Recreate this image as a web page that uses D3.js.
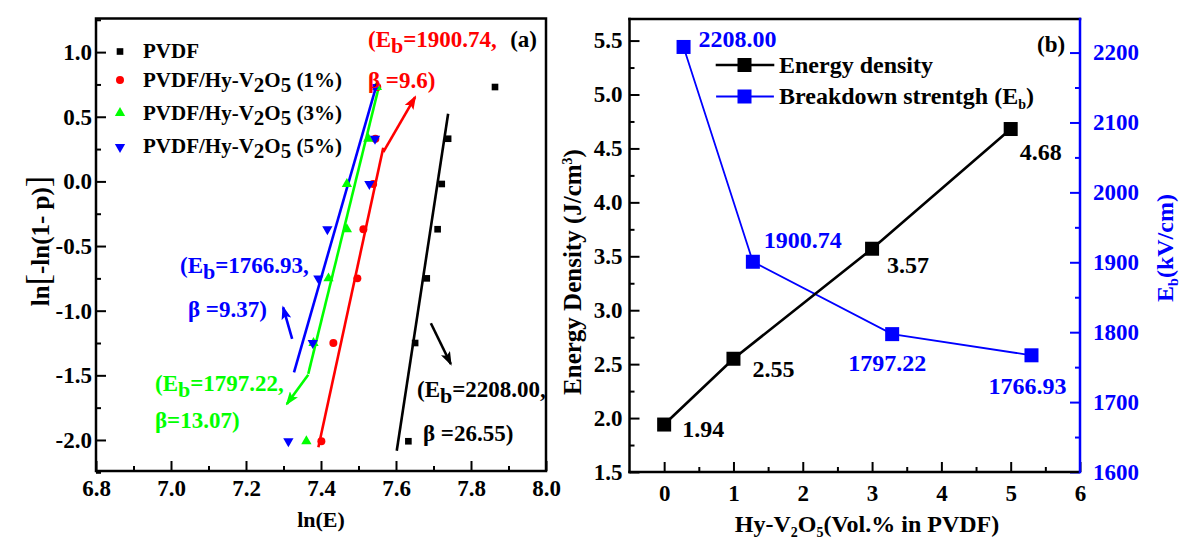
<!DOCTYPE html>
<html><head><meta charset="utf-8">
<script src="https://cdn.jsdelivr.net/npm/d3@7"></script>
<style>
body{margin:0;background:#fff}
svg{display:block}
text{font-family:"Liberation Serif","Times New Roman",serif;font-weight:bold}
</style>
</head><body>
<svg id="c" width="1184" height="542"></svg>
<script>
// ---------------- DATA ----------------
// Panel (a): Weibull plot
const weibullY = [-2.01, -1.25, -0.75, -0.37, -0.02, 0.33, 0.73];
const lnE_PVDF = [7.633, 7.651, 7.682, 7.711, 7.722, 7.739, 7.864];
const lnE_1pct = [7.401, 7.433, 7.497, 7.513, 7.539, 7.545, 7.550];
const lnE_3pct = [7.361, 7.380, 7.420, 7.469, 7.469, 7.526, 7.549];
const lnE_5pct = [7.313, 7.378, 7.393, 7.417, 7.529, 7.544, 7.544];
const fit_PVDF = [[7.602, -2.083], [7.739, 0.523]];
const fit_1pct = [[7.393, -2.057], [7.566, 0.260]];
const fit_3pct = [[7.366, -1.489], [7.553, 0.717]];
const fit_5pct = [[7.328, -1.477], [7.549, 0.755]];
const seriesNamesA = ["PVDF", "PVDF/Hy-V2O5 (1%)", "PVDF/Hy-V2O5 (3%)", "PVDF/Hy-V2O5 (5%)"];
const ebValues = ["2208.00", "1900.74", "1797.22", "1766.93"];
const betaValues = ["26.55", "9.6", "13.07", "9.37"];
const xTicksA = [6.8, 7.0, 7.2, 7.4, 7.6, 7.8, 8.0];
const yTicksA = [-2.0, -1.5, -1.0, -0.5, 0.0, 0.5, 1.0];

// Panel (b)
const loading = [0, 1, 3, 5];
const energyDensity = [1.94, 2.55, 3.57, 4.68];
const loadingEb = [0.28, 1.28, 3.29, 5.30];
const breakdownEb = [2208.00, 1900.74, 1797.22, 1766.93];
const xTicksB = [0, 1, 2, 3, 4, 5, 6];
const yTicksB = [1.5, 2.0, 2.5, 3.0, 3.5, 4.0, 4.5, 5.0, 5.5];
const yTicksEb = [1600, 1700, 1800, 1900, 2000, 2100, 2200];

// ---------------- HELPERS ----------------
const svg = d3.select("#c");
function rich(sel, parts) {
  let pending = 0;
  parts.forEach(p => {
    if (typeof p === "string") {
      const ts = sel.append("tspan").text(p);
      if (pending) { ts.attr("dy", pending); pending = 0; }
    } else {
      sel.append("tspan").attr("dy", p.dy + pending).attr("font-size", p.size).text(p.t);
      pending = -p.dy;
    }
  });
  return sel;
}
function frameLine(g, x1, y1, x2, y2, color, w) {
  g.append("line").attr("x1", x1).attr("y1", y1).attr("x2", x2).attr("y2", y2)
    .attr("stroke", color).attr("stroke-width", w).attr("stroke-linecap", "square");
}
function styleAxis(g, color, size) {
  g.select(".domain").remove();
  g.selectAll(".tick line").attr("stroke", color).attr("stroke-width", 2);
  g.selectAll(".tick text").attr("fill", color).attr("font-size", size)
    .attr("font-family", '"Liberation Serif","Times New Roman",serif').attr("font-weight", "bold");
}
const defs = svg.append("defs");
["#ff0000", "#0000ff", "#00ff00", "#000000"].forEach((c, i) => {
  defs.append("marker").attr("id", "ah" + i).attr("viewBox", "0 0 14 10")
    .attr("refX", 12).attr("refY", 5).attr("markerWidth", 14).attr("markerHeight", 10)
    .attr("markerUnits", "userSpaceOnUse").attr("orient", "auto")
    .append("path").attr("d", "M0,0 L14,5 L0,10 L3,5 Z").attr("fill", c);
});

// ---------------- PANEL (a) ----------------
const xA = d3.scaleLinear().domain([6.8, 8.0]).range([96, 546]);
const yA = d3.scaleLinear().domain([-2.24, 1.26]).range([471, 18.5]);
const gA = svg.append("g");

const axXA = gA.append("g").attr("transform", "translate(0,471)")
  .call(d3.axisBottom(xA).tickValues(xTicksA).tickSizeInner(-10).tickSizeOuter(0).tickPadding(9).tickFormat(d3.format(".1f")));
styleAxis(axXA, "#000", 23);
const axXAm = gA.append("g").attr("transform", "translate(0,471)")
  .call(d3.axisBottom(xA).tickValues(d3.range(6.9, 8.0, 0.2)).tickSizeInner(-5).tickSizeOuter(0).tickFormat(""));
styleAxis(axXAm, "#000", 23);
const axYA = gA.append("g").attr("transform", "translate(96,0)")
  .call(d3.axisLeft(yA).tickValues(yTicksA).tickSizeInner(-10).tickSizeOuter(0).tickPadding(4).tickFormat(d => d.toFixed(1)));
styleAxis(axYA, "#000", 23);
const axYAm = gA.append("g").attr("transform", "translate(96,0)")
  .call(d3.axisLeft(yA).tickValues([-2.25, -1.75, -1.25, -0.75, -0.25, 0.25, 0.75, 1.25]).tickSizeInner(-5).tickSizeOuter(0).tickFormat(""));
styleAxis(axYAm, "#000", 23);
gA.append("rect").attr("x", 96).attr("y", 18.5).attr("width", 450).attr("height", 452.5)
  .attr("fill", "none").attr("stroke", "#000").attr("stroke-width", 2.5);

const seriesA = [
  { color: "#000000", sym: d3.symbolSquare, size: 44, rot: 0, x: lnE_PVDF, fit: fit_PVDF },
  { color: "#ff0000", sym: d3.symbolCircle, size: 50, rot: 0, x: lnE_1pct, fit: fit_1pct },
  { color: "#00ff00", sym: d3.symbolTriangle, size: 46, rot: 0, x: lnE_3pct, fit: fit_3pct },
  { color: "#0000ff", sym: d3.symbolTriangle, size: 46, rot: 180, x: lnE_5pct, fit: fit_5pct }
];
const line = d3.line().x(d => xA(d[0])).y(d => yA(d[1]));
seriesA.forEach(s => {
  gA.append("path").attr("d", line(s.fit)).attr("stroke", s.color).attr("stroke-width", 2.6).attr("fill", "none");
});
seriesA.forEach(s => {
  gA.selectAll(null).data(s.x.map((v, i) => [v, weibullY[i]])).enter().append("path")
    .attr("d", d3.symbol().type(s.sym).size(s.size))
    .attr("transform", d => `translate(${xA(d[0])},${yA(d[1])}) rotate(${s.rot})`)
    .attr("fill", s.color);
});

// legend (a)
const legA = [{ y: 51.5, base: 58 }, { y: 80, base: 86.5 }, { y: 113, base: 119.5 }, { y: 147, base: 153 }];
seriesA.forEach((s, i) => {
  gA.append("path").attr("d", d3.symbol().type(s.sym).size(s.size))
    .attr("transform", `translate(120,${legA[i].y}) rotate(${s.rot})`).attr("fill", s.color);
  const t = gA.append("text").attr("x", 143).attr("y", legA[i].base).attr("font-size", 21).attr("fill", "#000");
  const nm = seriesNamesA[i];
  if (i === 0) t.text(nm);
  else {
    const m = nm.match(/^(.*V)2O5(.*)$/);
    rich(t, [m[1], { t: "2", dy: 5, size: 21 }, "O", { t: "5", dy: 5, size: 21 }, m[2]]);
  }
});

// arrows (data coordinates)
const arrowsA = [
  { c: 0, from: [7.566, 0.226], to: [7.651, 0.652] },
  { c: 1, from: [7.323, -1.218], to: [7.299, -0.974] },
  { c: 2, from: [7.366, -1.495], to: [7.309, -1.721] },
  { c: 3, from: [7.693, -1.097], to: [7.746, -1.412] }
];
const arrowColors = ["#ff0000", "#0000ff", "#00ff00", "#000000"];
arrowsA.forEach(a => {
  gA.append("line").attr("x1", xA(a.from[0])).attr("y1", yA(a.from[1]))
    .attr("x2", xA(a.to[0])).attr("y2", yA(a.to[1]))
    .attr("stroke", arrowColors[a.c]).attr("stroke-width", 2.6)
    .attr("marker-end", `url(#ah${a.c})`);
});

// annotations (pixel layout)
const annA = [
  { s: 1, color: "#ff0000", x: 368, y: 46.5, by: 88, bx: 368, beta: "\u03b2 =" },
  { s: 3, color: "#0000ff", x: 180, y: 272.5, by: 317, bx: 188, beta: "\u03b2 =" },
  { s: 2, color: "#00ff00", x: 155, y: 390.5, by: 428, bx: 155, beta: "\u03b2=" },
  { s: 0, color: "#000000", x: 417, y: 396.5, by: 440.5, bx: 423, beta: "\u03b2 =" }
];
annA.forEach(a => {
  const t = gA.append("text").attr("x", a.x).attr("y", a.y).attr("font-size", 23).attr("fill", a.color);
  rich(t, ["(E", { t: "b", dy: 6, size: 22 }, "=" + ebValues[a.s] + ","]);
  gA.append("text").attr("x", a.bx).attr("y", a.by).attr("font-size", 23).attr("fill", a.color)
    .text(a.beta + betaValues[a.s] + ")");
});
gA.append("text").attr("x", 537).attr("y", 46.5).attr("text-anchor", "end").attr("font-size", 23).text("(a)");

// axis titles (a)
gA.append("text").attr("x", 321).attr("y", 527).attr("text-anchor", "middle").attr("font-size", 22).text("ln(E)");
const ytA = gA.append("text").attr("transform", "translate(49,241) rotate(-90)").attr("text-anchor", "middle").attr("font-size", 25);
ytA.append("tspan").text("ln");
ytA.append("tspan").attr("font-size", 34).attr("font-weight", "normal").text("[");
ytA.append("tspan").text("-ln(1- p)");
ytA.append("tspan").attr("font-size", 34).attr("font-weight", "normal").text("]");

// ---------------- PANEL (b) ----------------
const xB = d3.scaleLinear().domain([-0.5, 6]).range([629.5, 1080]);
const yB = d3.scaleLinear().domain([1.5, 5.7]).range([472, 19]);
const yE = d3.scaleLinear().domain([1600, 2248]).range([472, 19]);
const gB = svg.append("g");
const BLUE = "#0000ff";

const axXB = gB.append("g").attr("transform", "translate(0,472)")
  .call(d3.axisBottom(xB).tickValues(xTicksB).tickSizeInner(-10).tickSizeOuter(0).tickPadding(13).tickFormat(d3.format("d")));
styleAxis(axXB, "#000", 23);
const axXBm = gB.append("g").attr("transform", "translate(0,472)")
  .call(d3.axisBottom(xB).tickValues(d3.range(0.5, 6, 1)).tickSizeInner(-5).tickSizeOuter(0).tickFormat(""));
styleAxis(axXBm, "#000", 23);
const axYB = gB.append("g").attr("transform", "translate(629.5,0)")
  .call(d3.axisLeft(yB).tickValues(yTicksB).tickSizeInner(-10).tickSizeOuter(0).tickPadding(7).tickFormat(d3.format(".1f")));
styleAxis(axYB, "#000", 23);
const axYBm = gB.append("g").attr("transform", "translate(629.5,0)")
  .call(d3.axisLeft(yB).tickValues(d3.range(1.75, 5.7, 0.5)).tickSizeInner(-5).tickSizeOuter(0).tickFormat(""));
styleAxis(axYBm, "#000", 23);
const axYE = gB.append("g").attr("transform", "translate(1080,0)")
  .call(d3.axisRight(yE).tickValues(yTicksEb).tickSizeInner(-10).tickSizeOuter(0).tickPadding(13).tickFormat(d3.format("d")));
styleAxis(axYE, BLUE, 23);
const axYEm = gB.append("g").attr("transform", "translate(1080,0)")
  .call(d3.axisRight(yE).tickValues(d3.range(1650, 2248, 100)).tickSizeInner(-5).tickSizeOuter(0).tickFormat(""));
styleAxis(axYEm, BLUE, 23);

frameLine(gB, 629.5, 19, 1080, 19, "#000", 2.5);
frameLine(gB, 629.5, 19, 629.5, 472, "#000", 2.5);
frameLine(gB, 629.5, 472, 1078, 472, "#000", 2.5);
frameLine(gB, 1080, 19, 1080, 472, BLUE, 2.5);

// lines
const edPts = loading.map((v, i) => [v, energyDensity[i]]);
const ebPts = loadingEb.map((v, i) => [v, breakdownEb[i]]);
gB.append("path").attr("d", d3.line().x(d => xB(d[0])).y(d => yE(d[1]))(ebPts))
  .attr("stroke", BLUE).attr("stroke-width", 1.8).attr("fill", "none");
gB.append("path").attr("d", d3.line().x(d => xB(d[0])).y(d => yB(d[1]))(edPts))
  .attr("stroke", "#000").attr("stroke-width", 2.6).attr("fill", "none");
gB.selectAll(".eb").data(ebPts).enter().append("rect")
  .attr("x", d => xB(d[0]) - 7).attr("y", d => yE(d[1]) - 7).attr("width", 14).attr("height", 14).attr("fill", BLUE);
gB.selectAll(".ed").data(edPts).enter().append("rect")
  .attr("x", d => xB(d[0]) - 7).attr("y", d => yB(d[1]) - 7).attr("width", 14).attr("height", 14).attr("fill", "#000");

// value labels (offsets are layout)
const edOff = [[18, 12], [19, 18], [15, 24], [9, 31]];
edPts.forEach((d, i) => {
  gB.append("text").attr("x", xB(d[0]) + edOff[i][0]).attr("y", yB(d[1]) + edOff[i][1])
    .attr("font-size", 24).attr("fill", "#000").text(d[1].toFixed(2));
});
const ebOff = [[15, 0], [11, -14], [-44, 37], [-43, 39]];
ebPts.forEach((d, i) => {
  gB.append("text").attr("x", xB(d[0]) + ebOff[i][0]).attr("y", yE(d[1]) + ebOff[i][1])
    .attr("font-size", 24).attr("fill", BLUE).text(d[1].toFixed(2));
});

// legend (b)
[{ c: "#000", y: 65, base: 72.5 }, { c: BLUE, y: 96.5, base: 104 }].forEach((r, i) => {
  frameLine(gB, 717, r.y, 773, r.y, r.c, i === 0 ? 2.6 : 1.8);
  gB.append("rect").attr("x", 737.5).attr("y", r.y - 7).attr("width", 14).attr("height", 14).attr("fill", r.c);
  const t = gB.append("text").attr("x", 779).attr("y", r.base).attr("font-size", 24).attr("fill", "#000");
  if (i === 0) t.text("Energy density");
  else rich(t, ["Breakdown strentgh (E", { t: "b", dy: 5, size: 14 }, ")"]);
});
gB.append("text").attr("x", 1037).attr("y", 52).attr("font-size", 23).text("(b)");

// axis titles (b)
const xtB = gB.append("text").attr("x", 867).attr("y", 532).attr("text-anchor", "middle").attr("font-size", 24);
rich(xtB, ["Hy-V", { t: "2", dy: 5, size: 14 }, "O", { t: "5", dy: 5, size: 14 }, "(Vol.% in PVDF)"]);
const ytB = gB.append("text").attr("transform", "translate(581,272) rotate(-90)").attr("text-anchor", "middle").attr("font-size", 25);
rich(ytB, ["Energy Density (J/cm", { t: "3", dy: -9, size: 14 }, ")"]);
const ytE = gB.append("text").attr("transform", "translate(1173,248) rotate(-90)").attr("text-anchor", "middle").attr("font-size", 24).attr("fill", BLUE);
rich(ytE, ["E", { t: "b", dy: 5, size: 14 }, "(kV/cm)"]);
</script>
</body></html>
